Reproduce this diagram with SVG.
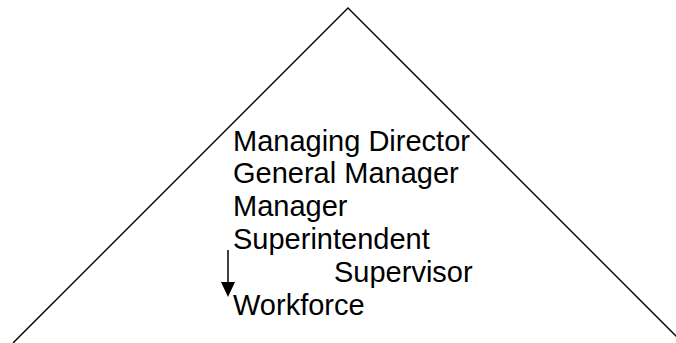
<svg xmlns="http://www.w3.org/2000/svg" width="676" height="343" viewBox="0 0 676 343">
  <style>
    .edge { stroke: #000; stroke-width: 1.4; fill: none; }
    .label { font-family: "Liberation Sans", Arial, sans-serif; font-size: 29px; fill: #000; }
  </style>
  <rect width="676" height="343" fill="#fff"/>

  <!-- pyramid outline -->
  <g id="pyramid">
    <polyline class="edge" points="13,343 348,8 683,343"/>
  </g>

  <!-- hierarchy levels -->
  <g id="managing-director"><text class="label" x="233" y="150.5">Managing Director</text></g>
  <g id="general-manager"><text class="label" x="233" y="183.3">General Manager</text></g>
  <g id="manager"><text class="label" x="233" y="216.1">Manager</text></g>
  <g id="superintendent"><text class="label" x="233" y="248.9">Superintendent</text></g>
  <g id="supervisor"><text class="label" x="334" y="282">Supervisor</text></g>
  <g id="workforce"><text class="label" x="233" y="314.5">Workforce</text></g>

  <!-- downward arrow -->
  <g id="connectors">
    <line x1="228" y1="250" x2="228" y2="290" stroke="#000" stroke-width="1.5"/>
    <path d="M221,282 L235,282 L228,297 Z" fill="#000"/>
  </g>
</svg>
